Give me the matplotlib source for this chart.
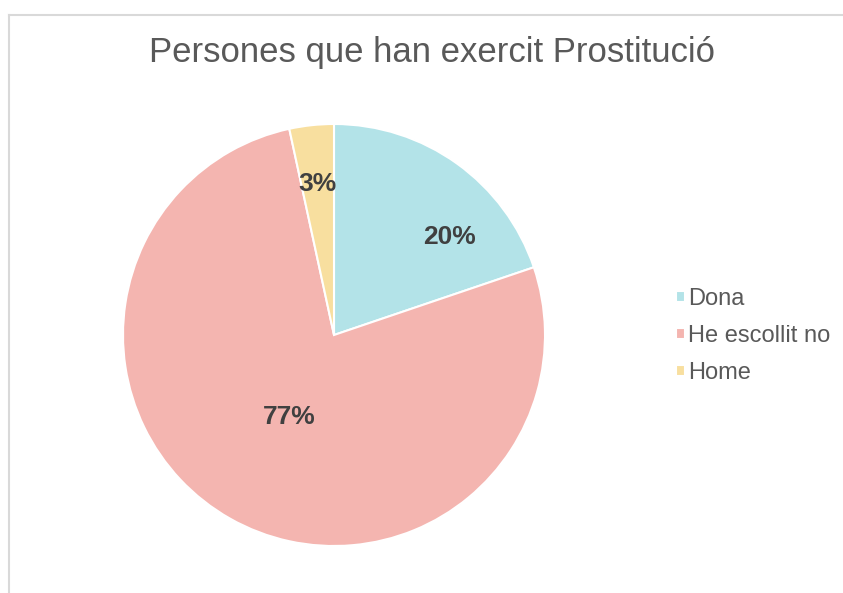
import numpy as np
import matplotlib.pyplot as plt
from matplotlib.lines import Line2D

categories = ["Dona", "He escollit no", "Home"]
shares = [19.8, 76.8, 3.4]
colors = ["#b3e3e8", "#f4b5b0", "#f8df9f"]
label_dist = [0.716, 0.44, 0.72]
label_turn = [-14, 1, 0]  # degrees, labels not exactly on the wedge middle

plt.rcParams['font.family'] = ['Liberation Sans', 'DejaVu Sans']

fig = plt.figure(figsize=(8.43, 5.93), dpi=100)

# frame lines like the original export
fig.add_artist(Line2D([9 / 843, 1], [1 - 15 / 593, 1 - 15 / 593], color="#d9d9d9", lw=1.5))
fig.add_artist(Line2D([9 / 843, 9 / 843], [0, 1 - 15 / 593], color="#d9d9d9", lw=1.5))

# pie centre ~ (334, 335) px, radius ~ 211 px
r = 211
ax = fig.add_axes([(334 - r) / 843, 1 - (335 + r) / 593, 2 * r / 843, 2 * r / 593])
wedges, texts, autotexts = ax.pie(
    shares, colors=colors, startangle=90, counterclock=False,
    autopct="%.0f%%", pctdistance=0.72,
    wedgeprops=dict(edgecolor="white", linewidth=1.5),
    textprops=dict(fontsize=19, fontweight="bold", color="#404040"))
for w, t, d, turn in zip(wedges, autotexts, label_dist, label_turn):
    ang = np.deg2rad((w.theta1 + w.theta2) / 2 + turn)
    t.set_position((d * np.cos(ang), d * np.sin(ang)))
ax.set_aspect("equal")
ax.set_xlim(-1, 1)
ax.set_ylim(-1, 1)

fig.text(432 / 843, 1 - 62 / 593, "Persones que han exercit Prostitució",
         ha="center", va="baseline", fontsize=25, color="#595959")

fig.legend(wedges, categories, loc="center left", bbox_to_anchor=(676 / 843, 1 - 336 / 593),
           frameon=False, fontsize=17, handlelength=0.36, handleheight=0.36,
           handletextpad=0.14, labelspacing=0.63, borderpad=0, borderaxespad=0,
           labelcolor="#595959")

fig.savefig("out.png", dpi=100)
